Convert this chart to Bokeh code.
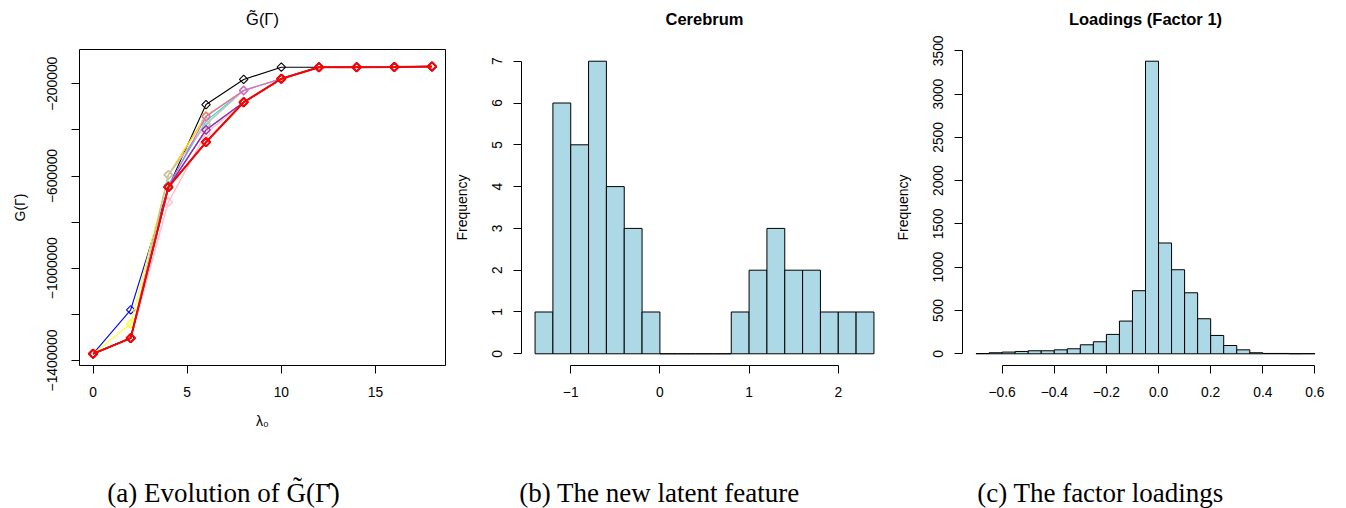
import math

from bokeh.core.properties import value
from bokeh.embed import file_html
from bokeh.layouts import column, row
from bokeh.models import ColumnDataSource, FixedTicker, Range1d
from bokeh.plotting import figure
from bokeh.resources import INLINE

SANS = "Liberation Sans"
SERIF = "Liberation Serif"

# ---------------- (a) objective against lambda_0, one line per run ----------------
lambda0 = [0, 2, 4, 6, 8, 10, 12, 14, 16, 18]
g_black = [-1371000, -1303000, -648000, -290000, -181000, -128000, -128000, -128000, -127000, -125000]
g_blue = [-1371000, -1180000, -648000, -400000, -280000, -178000, -128000, -128000, -127000, -125000]
g_yellow = [-1371000, -1241000, -595000, -342000, -229000, -178000, -128000, -128000, -127000, -125000]
g_cyan = [-1371000, -1303000, -640000, -362000, -229000, -178000, -128000, -128000, -127000, -125000]
g_gold = [-1371000, -1303000, -595000, -338000, -229000, -178000, -128000, -128000, -127000, -125000]
g_tan = [-1371000, -1303000, -595000, -375000, -229000, -178000, -128000, -128000, -127000, -125000]
g_lavender = [-1371000, -1303000, -648000, -400000, -280000, -178000, -128000, -128000, -127000, -125000]
g_pink = [-1371000, -1303000, -713000, -415000, -280000, -178000, -128000, -128000, -127000, -125000]
g_violet = [-1371000, -1303000, -648000, -342000, -229000, -178000, -128000, -128000, -127000, -125000]
g_purple = [-1371000, -1303000, -648000, -400000, -280000, -178000, -128000, -128000, -127000, -125000]
g_darkred = [-1371000, -1303000, -648000, -453000, -280000, -178000, -128000, -128000, -127000, -125000]
g_red = [-1371000, -1303000, -648000, -453000, -280000, -178000, -128000, -128000, -127000, -125000]

g_yticks = [-1400000, -1200000, -1000000, -800000, -600000, -400000, -200000]
g_ylabels = ["\u22121400000", "", "\u22121000000", "", "\u2212600000", "", "\u2212200000"]
g_xticks = [0, 5, 10, 15]

# ---------------- (b) histogram of the latent feature ----------------
cer_edges = [-1.4, -1.2, -1.0, -0.8, -0.6, -0.4, -0.2, 0.0, 0.2, 0.4, 0.6,
             0.8, 1.0, 1.2, 1.4, 1.6, 1.8, 2.0, 2.2, 2.4]
cer_counts = [1, 6, 5, 7, 4, 3, 1, 0, 0, 0, 0, 1, 2, 3, 2, 2, 1, 1, 1]
cer_xticks = [-1, 0, 1, 2]
cer_xlabels = ["\u22121", "0", "1", "2"]
cer_yticks = [0, 1, 2, 3, 4, 5, 6, 7]

# ---------------- (c) histogram of the factor loadings ----------------
load_edges = [-0.70, -0.65, -0.60, -0.55, -0.50, -0.45, -0.40, -0.35, -0.30, -0.25,
              -0.20, -0.15, -0.10, -0.05, 0.00, 0.05, 0.10, 0.15, 0.20, 0.25,
              0.30, 0.35, 0.40, 0.45, 0.50, 0.55, 0.60]
load_counts = [3, 12, 20, 27, 35, 35, 46, 58, 104, 139, 224, 378, 729,
               3380, 1280, 971, 705, 405, 212, 96, 46, 12, 4, 4, 1, 2]
load_xticks = [-0.6, -0.4, -0.2, 0.0, 0.2, 0.4, 0.6]
load_xlabels = ["\u22120.6", "\u22120.4", "\u22120.2", "0.0", "0.2", "0.4", "0.6"]
load_yticks = [0, 500, 1000, 1500, 2000, 2500, 3000, 3500]

captions = ["(a) Evolution of G\u0303(\u0393\u0302)", "(b) The new latent feature", "(c) The factor loadings"]

TOP = 49
FRAME_H = 316
PANEL_H = 448
FRAME_W = 366
CAP_H = 508 - PANEL_H


def padded(lo, hi):
    span = hi - lo
    return Range1d(lo - 0.04 * span, hi + 0.04 * span)


def style_axes(p, xticks, xlabels, yticks, ylabels, xbounds, ybounds):
    xa, ya = p.xaxis[0], p.yaxis[0]
    xa.ticker = FixedTicker(ticks=xticks)
    ya.ticker = FixedTicker(ticks=yticks)
    xa.major_label_overrides = dict(zip(xticks, xlabels))
    ya.major_label_overrides = dict(zip(yticks, ylabels))
    xa.bounds = xbounds
    ya.bounds = ybounds
    ya.major_label_orientation = "parallel"
    for ax in (xa, ya):
        ax.minor_tick_line_color = None
        ax.major_tick_in = 0
        ax.major_tick_out = 8
        ax.axis_line_color = "black"
        ax.major_tick_line_color = "black"
        ax.major_label_text_font = SANS
        ax.major_label_text_font_size = "13.8px"
        ax.major_label_text_color = "black"
        ax.axis_label_text_font = SANS
        ax.axis_label_text_font_size = "14px"
        ax.axis_label_text_font_style = "normal"
        ax.axis_label_text_color = "black"
    xa.major_label_standoff = 13
    ya.major_label_standoff = 11
    xa.axis_label_standoff = 13
    ya.axis_label_standoff = 20
    p.grid.visible = False


def make_panel(title, bold, x_range, y_range, left, right):
    p = figure(width=left + FRAME_W + right, height=PANEL_H,
               frame_width=FRAME_W, frame_height=FRAME_H,
               x_range=x_range, y_range=y_range,
               min_border_left=left, min_border_right=right,
               min_border_top=TOP, min_border_bottom=PANEL_H - TOP - FRAME_H,
               toolbar_location=None, output_backend="svg")
    # the trailing empty line lifts the title well clear of the frame
    p.title.text = title + "\n"
    p.title.align = "center"
    p.title.vertical_align = "bottom"
    p.title.standoff = 4
    p.title.text_line_height = 1.1
    p.title.text_font = SANS
    p.title.text_font_size = "16.5px"
    p.title.text_font_style = "bold" if bold else "normal"
    p.title.text_color = "black"
    p.background_fill_color = "white"
    p.border_fill_color = "white"
    return p


# ---- panel (a)
pa = make_panel("G\u0303(\u0393)", False, padded(0, 18), Range1d(-1421700, -51200), 79, 5)
pa.outline_line_color = "black"
pa.outline_line_width = 1
style_axes(pa, g_xticks, [str(t) for t in g_xticks], g_yticks, g_ylabels, (0, 15), (-1400000, -200000))
pa.yaxis.major_label_standoff = 14
pa.yaxis.axis_label_standoff = 17
pa.xaxis.axis_label = "\u03bb\u2080"
pa.yaxis.axis_label = "G(\u0393)"

runs = [
    (g_black, "black", 1.1),
    (g_blue, "blue", 1.1),
    (g_yellow, "#ffff00", 1.1),
    (g_cyan, "#00e5e5", 1.1),
    (g_gold, "#ffc800", 1.1),
    (g_tan, "#c8c0b4", 1.6),
    (g_lavender, "#a8a4dc", 1.4),
    (g_pink, "#ffc0cb", 1.4),
    (g_violet, "#dd60dd", 1.1),
    (g_purple, "#a0209f", 1.1),
    (g_darkred, "#c01818", 2.0),
    (g_red, "#ff0000", 1.6),
]
for vals, col, lw in runs:
    src = ColumnDataSource(dict(x=lambda0, y=vals))
    pa.line("x", "y", source=src, line_color=col, line_width=lw)
    pa.scatter("x", "y", source=src, marker="square", angle=math.pi / 4, size=6,
               fill_color=None, line_color=col, line_width=lw)

# ---- panel (b)
pb = make_panel("Cerebrum", True, padded(cer_edges[0], cer_edges[-1]),
                padded(0, max(cer_counts)), 70, 4)
pb.outline_line_color = None
style_axes(pb, cer_xticks, cer_xlabels, cer_yticks, [str(t) for t in cer_yticks], (-1, 2), (0, 7))
pb.yaxis.axis_label = "Frequency"
pb.quad(left=cer_edges[:-1], right=cer_edges[1:], bottom=0, top=cer_counts,
        fill_color="#add8e6", line_color="black", line_width=1)

# ---- panel (c)
pc = make_panel("Loadings (Factor 1)", True, padded(load_edges[0], load_edges[-1]),
                padded(0, max(load_counts)), 71, 19)
pc.outline_line_color = None
style_axes(pc, load_xticks, load_xlabels, load_yticks, [str(t) for t in load_yticks], (-0.6, 0.6), (0, 3500))
pc.yaxis.axis_label = "Frequency"
pc.quad(left=load_edges[:-1], right=load_edges[1:], bottom=0, top=load_counts,
        fill_color="#add8e6", line_color="black", line_width=1)

# ---- sub-figure captions
cap = figure(width=1346, height=CAP_H, x_range=Range1d(0, 1346), y_range=Range1d(0, CAP_H),
             min_border=0, toolbar_location=None, output_backend="svg",
             x_axis_location=None, y_axis_location=None)
cap.outline_line_color = None
cap.grid.visible = False
cap.text(x=[223, 659, 1100], y=[16, 16, 16], text=captions, text_align="center",
         text_baseline="middle", text_font=value(SERIF), text_font_size="27px",
         text_color="black")

layout = column(row(pa, pb, pc), cap)

with open("out.html", "w") as f:
    f.write(file_html(layout, INLINE))
